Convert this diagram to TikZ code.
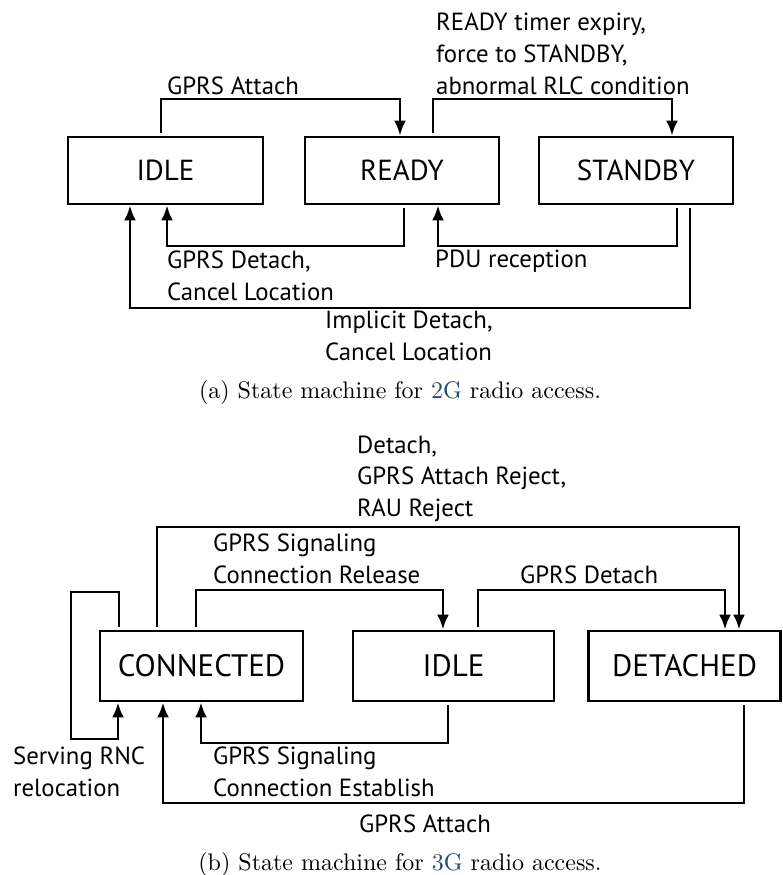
\documentclass[tikz,border=0pt]{standalone}
\usepackage{fontspec}
\usepackage{graphicx}
\newfontfamily\lblfont{PT Sans}
\usetikzlibrary{arrows.meta}
\definecolor{linkblue}{RGB}{40,72,120}
\newcommand{\captiontext}[1]{\scalebox{2.4}{\fontsize{10}{12}\selectfont #1}}
\begin{document}
\begin{tikzpicture}[x=1pt,y=-1pt,
  state/.style={draw, line width=2.8pt, inner sep=0pt, font=\lblfont\fontsize{29}{32}\selectfont},
  stateb/.style={state, font=\lblfont\fontsize{31}{34}\selectfont},
  conn/.style={line width=2.8pt, -{Latex[length=15pt,width=12pt]}, shorten <=3pt},
  lbl/.style={inner sep=0pt, align=left, font=\lblfont\fontsize{24.8}{31.5}\selectfont},
  captxt/.style={inner sep=0pt}]
\useasboundingbox (0,0) rectangle (782,875);
% ---------- (a) 2G ----------
\node[state, minimum width=195pt, minimum height=67pt] (idle) at (165.5,170.5) {IDLE};
\node[state, minimum width=194pt, minimum height=67pt] (ready) at (402,170.5) {READY};
\node[state, minimum width=194pt, minimum height=67pt] (standby) at (636,170.5) {STANDBY};

\draw[conn] ([xshift=-4.5pt]idle.north) |- (400,99) -- ([xshift=-2pt]ready.north);
\draw[conn] ([xshift=31pt]ready.north) |- (672,99) -- ([xshift=36pt]standby.north);
\draw[conn] ([xshift=2pt]ready.south) |- (167,246) -- ([xshift=1.5pt]idle.south);
\draw[conn] ([xshift=41pt]standby.south) |- (438,246) -- ([xshift=36pt]ready.south);
\draw[conn] ([xshift=54pt]standby.south) |- (130,308) -- ([xshift=-35.5pt]idle.south);

\node[lbl, anchor=base west] (la1) at (167,94) {GPRS Attach};
\node[lbl, anchor=base west] (la2) at (436,94) {READY timer expiry,\\force to STANDBY,\\abnormal RLC condition};
\node[lbl, anchor=base west] (la3) at (167,300) {GPRS Detach,\\Cancel Location};
\node[lbl, anchor=base west] (la4) at (435,267) {PDU reception};
\node[lbl, anchor=base west] (la5) at (325,360) {Implicit Detach,\\Cancel Location};
\node[captxt, anchor=base] (capa) at (400,398) {\captiontext{(a) State machine for {\color{linkblue}2G} radio access.}};

% ---------- (b) 3G ----------
\node[stateb, minimum width=203pt, minimum height=70pt] (connected) at (201.5,666) {CONNECTED};
\node[stateb, minimum width=201pt, minimum height=70pt] (idleb) at (453.5,666) {IDLE};
\node[stateb, minimum width=192pt, minimum height=70pt] (detached) at (684.6,666) {DETACHED};

\draw[conn] ([xshift=-82.5pt]connected.north) |- (71,592) -- (71,739) -| ([xshift=-83.5pt]connected.south);
\draw[conn] ([xshift=-44.5pt]connected.north) |- (739,527) -- ([xshift=54.4pt]detached.north);
\draw[conn] ([xshift=-5.5pt]connected.north) |- (443,590) -- ([xshift=-10.5pt]idleb.north);
\draw[conn] ([xshift=24.5pt]idleb.north) |- (725,590) -- ([xshift=40.4pt]detached.north);
\draw[conn] ([xshift=-5.5pt]idleb.south) |- (201,743) -- ([xshift=-0.5pt]connected.south);
\draw[conn] ([xshift=59.4pt]detached.south) |- (163,803) -- ([xshift=-38.5pt]connected.south);

\node[lbl, anchor=base west] (lb1) at (357,516) {Detach,\\GPRS Attach Reject,\\RAU Reject};
\node[lbl, anchor=base west] (lb2) at (213,583) {GPRS Signaling\\Connection Release};
\node[lbl, anchor=base west] (lb3) at (520,583) {GPRS Detach};
\node[lbl, anchor=base west] (lb4) at (13,796) {Serving RNC\\relocation};
\node[lbl, anchor=base west] (lb5) at (213,796) {GPRS Signaling\\Connection Establish};
\node[lbl, anchor=base west] (lb6) at (359,832) {GPRS Attach};
\node[captxt, anchor=base] (capb) at (400,870) {\captiontext{(b) State machine for {\color{linkblue}3G} radio access.}};
\end{tikzpicture}
\end{document}
